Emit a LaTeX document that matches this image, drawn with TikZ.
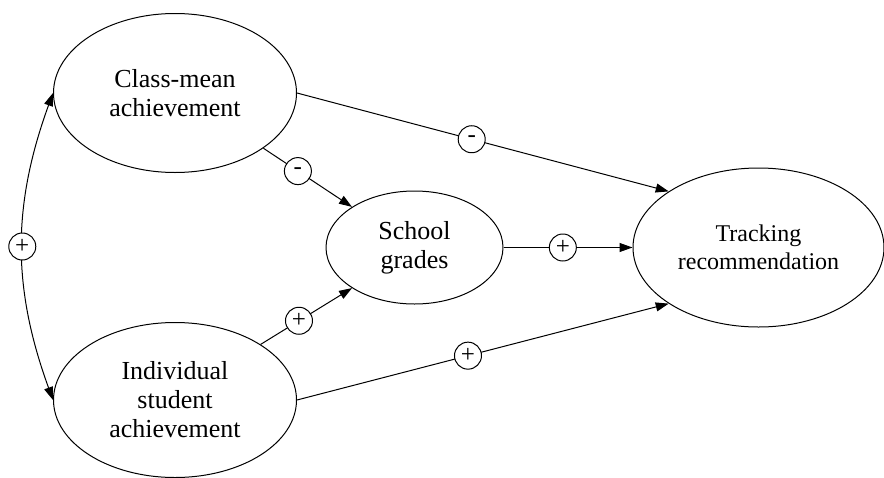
\documentclass[tikz,border=0pt]{standalone}
\usepackage{fontspec}
\setmainfont{Liberation Serif}
\usetikzlibrary{shapes.geometric,arrows.meta}

\begin{document}
\begin{tikzpicture}[x=0.5pt,y=-0.5pt,
    >={Triangle[length=6.5pt,width=4.5pt]},
    factor/.style={ellipse, draw, line width=0.5pt, inner sep=0pt, align=center,
        font=\fontsize{13}{14.5}\selectfont},
    link/.style={->, line width=0.5pt},
    sign/.style={circle, draw, fill=white, line width=0.5pt, inner sep=0pt,
        minimum size=13.5pt, font=\fontsize{12.5}{12.5}\selectfont}]

    % Fix the picture size
    \useasboundingbox (0,0) rectangle (884,477);

    % The four factors
    \node[factor, minimum width=121.5pt, minimum height=79.5pt] (cm) at (175,93) {Class-mean\\achievement};
    \node[factor, minimum width=121.5pt, minimum height=77.5pt] (isa) at (175,400) {Individual\\student\\achievement};
    \node[factor, minimum width=88.5pt, minimum height=56.5pt] (sg) at (414.5,247.5) {School\\grades};
    \node[factor, minimum width=125.5pt, minimum height=79.5pt,
        font=\fontsize{12}{14}\selectfont] (tr) at (758.5,247.5) {Tracking\\recommendation};

    % Correlation between the two achievement measures
    \draw[<->, line width=0.5pt] (cm.west) to[bend right=20] node[sign] (s0) {+} (isa.west);

    % Effects on school grades
    \draw[link] (cm.-32) -- node[sign, pos=0.39] (s1) {-} (sg.147);
    \draw[link] (isa.33) -- node[sign, pos=0.42] (s2) {+} (sg.213);

    % Effects on the tracking recommendation
    \draw[link] (cm.east) -- node[sign, pos=0.47] (s3) {-} (tr.148);
    \draw[link] (sg.east) -- node[sign, pos=0.46] (s4) {+} (tr.west);
    \draw[link] (isa.east) -- node[sign, pos=0.46] (s5) {+} (tr.212);

\end{tikzpicture}
\end{document}
